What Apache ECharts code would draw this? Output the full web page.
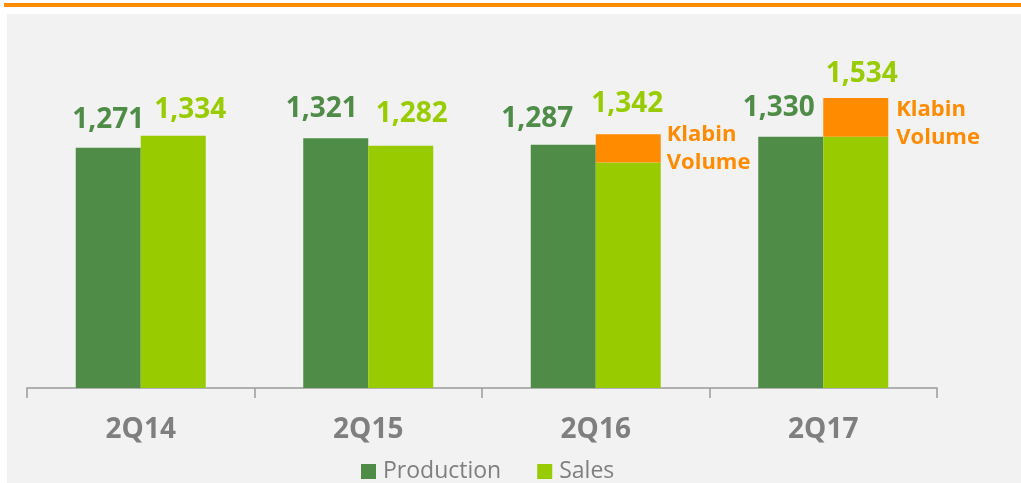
<!DOCTYPE html>
<html>
<head>
<meta charset="utf-8">
<script src="https://cdn.jsdelivr.net/npm/echarts@6/dist/echarts.min.js"></script>
<style>
  html, body { margin: 0; padding: 0; background: #fff; }
  #container { width: 1021px; height: 483px; }
</style>
</head>
<body>
<div id="container"></div>
<script>
var dom = document.getElementById('container');
var myChart = echarts.init(dom);

// data
var quarters = ['2Q14', '2Q15', '2Q16', '2Q17'];
var production = [1271, 1321, 1287, 1330];
var salesTotal = [1334, 1282, 1342, 1534];
var klabinVolume = [0, 0, 149, 204];

var salesBase = salesTotal.map(function (v, i) { return v - klabinVolume[i]; });

// label nudges, like in the original slide
var prodShift = [[0, 0], [-14, -1], [-26, 2], [-12, -1]];
var salesShift = [[17, 2], [11, -4], [-1, -2], [6, 4]];
var klabinShift = [[0, 0], [0, 0], [0, 0], [2, 6]];

var green = '#4E8C48';
var lime = '#99CC00';
var orange = '#FF8C00';
var font = 'Open Sans';

var fmt = function (v) {
    return v.toLocaleString('en-US');
};

var option = {
    animation: false,
    textStyle: { fontFamily: font },
    graphic: [
        {
            type: 'rect',
            z: -10,
            silent: true,
            shape: { x: 7, y: 14, width: 1014, height: 469 },
            style: { fill: '#F2F2F2' }
        },
        {
            type: 'line',
            z: -10,
            silent: true,
            shape: { x1: 4, y1: 5, x2: 1021, y2: 5 },
            style: { stroke: orange, lineWidth: 4 }
        }
    ],
    grid: {
        left: 27,
        right: 84,
        top: 10,
        bottom: 95
    },
    legend: {
        left: 361,
        top: 460,
        padding: 0,
        itemWidth: 15,
        itemHeight: 15,
        itemGap: 36,
        icon: 'rect',
        data: ['Production', 'Sales'],
        textStyle: {
            fontFamily: font,
            fontSize: 23,
            color: '#7F7F7F',
            padding: [0, 0, 0, 2]
        }
    },
    xAxis: {
        type: 'category',
        data: quarters,
        axisLine: { show: true, lineStyle: { color: '#9A9A9A', width: 1.5 } },
        axisTick: { show: true, length: 10, lineStyle: { color: '#9A9A9A', width: 1.5 } },
        axisLabel: {
            margin: 28,
            fontFamily: font,
            fontSize: 28,
            fontWeight: 'bold',
            color: '#7F7F7F'
        }
    },
    yAxis: {
        type: 'value',
        min: 0,
        max: 2000,
        show: false,
        splitLine: { show: false }
    },
    series: [
        {
            name: 'Production',
            type: 'bar',
            barWidth: 65,
            barGap: '0%',
            itemStyle: { color: green },
            label: {
                show: true,
                position: 'top',
                distance: 14,
                fontFamily: font,
                fontSize: 28,
                fontWeight: 'bold',
                color: green,
                formatter: function (p) { return fmt(p.value); }
            },
            data: production.map(function (v, i) {
                return { value: v, label: { offset: prodShift[i] } };
            })
        },
        {
            name: 'Sales',
            type: 'bar',
            stack: 'sales',
            stackStrategy: 'all',
            barWidth: 65,
            itemStyle: { color: lime },
            data: salesBase
        },
        {
            name: 'Klabin',
            type: 'bar',
            stack: 'sales',
            stackStrategy: 'all',
            barWidth: 65,
            itemStyle: { color: orange },
            label: {
                show: true,
                position: 'right',
                distance: 6,
                align: 'left',
                fontFamily: font,
                fontSize: 22,
                fontWeight: 'bold',
                lineHeight: 28,
                color: orange,
                formatter: function (p) { return p.value > 0 ? 'Klabin\nVolume' : ''; }
            },
            data: klabinVolume.map(function (v, i) {
                return { value: v, label: { offset: klabinShift[i] } };
            })
        },
        {
            name: 'Total',
            type: 'bar',
            stack: 'sales',
            stackStrategy: 'all',
            barWidth: 65,
            itemStyle: { color: 'transparent' },
            label: {
                show: true,
                position: 'top',
                distance: 14,
                fontFamily: font,
                fontSize: 28,
                fontWeight: 'bold',
                color: lime,
                formatter: function (p) { return fmt(salesTotal[p.dataIndex]); }
            },
            data: salesTotal.map(function (v, i) {
                return { value: 0, label: { offset: salesShift[i] } };
            })
        }
    ]
};

myChart.setOption(option);
</script>
</body>
</html>
